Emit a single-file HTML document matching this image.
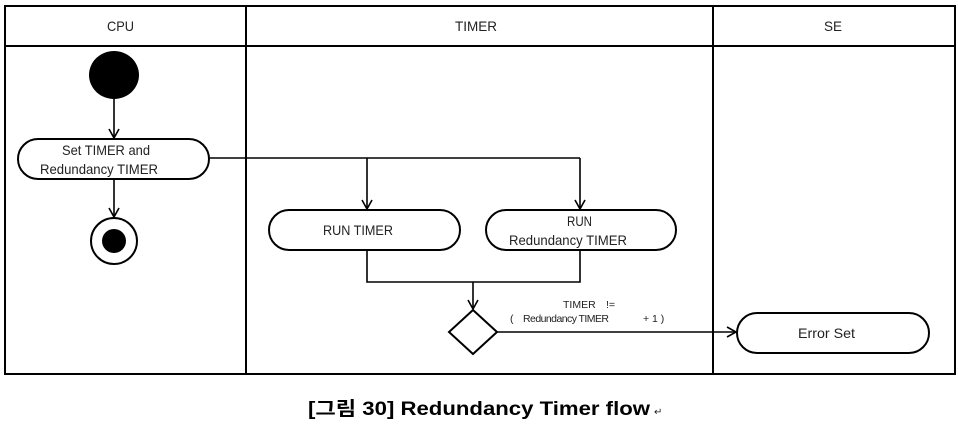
<!DOCTYPE html>
<html><head><meta charset="utf-8"><style>
html,body{margin:0;padding:0;background:#fff;width:958px;height:426px;overflow:hidden}
svg{display:block}
text{font-family:"Liberation Sans",sans-serif;fill:#222}
</style></head><body>
<svg width="958" height="426" viewBox="0 0 958 426">
<defs><marker id="a" markerWidth="12" markerHeight="12" refX="10" refY="6" orient="auto" markerUnits="userSpaceOnUse"><path d="M1,1 L10,6 L1,11" fill="none" stroke="#000" stroke-width="1.6"/></marker></defs>
<g fill="none" stroke="#000" stroke-width="2">
<rect x="5" y="6" width="950" height="368"/>
<line x1="5" y1="46" x2="955" y2="46"/>
<line x1="246" y1="6" x2="246" y2="374"/>
<line x1="713" y1="6" x2="713" y2="374"/>
<rect x="18" y="139" width="191" height="40" rx="20"/>
<rect x="269" y="210" width="191" height="40" rx="20"/>
<rect x="486" y="210" width="190" height="40" rx="20"/>
<rect x="737" y="313" width="192" height="40" rx="20"/>
<circle cx="114" cy="241" r="23"/>
<polygon points="473,310 497,332 473,354 449,332"/>
</g>
<ellipse cx="114" cy="75" rx="25" ry="24" fill="#000"/>
<circle cx="114" cy="241" r="12" fill="#000"/>
<g fill="none" stroke="#000" stroke-width="1.6">
<line x1="114" y1="99" x2="114" y2="138" marker-end="url(#a)"/>
<line x1="114" y1="179" x2="114" y2="217" marker-end="url(#a)"/>
<polyline points="209,158 580,158"/>
<line x1="367" y1="158" x2="367" y2="209" marker-end="url(#a)"/>
<line x1="580" y1="158" x2="580" y2="209" marker-end="url(#a)"/>
<polyline points="367,250 367,282 580,282 580,250"/>
<line x1="473" y1="282" x2="473" y2="309" marker-end="url(#a)"/>
<line x1="497" y1="332" x2="736" y2="332" marker-end="url(#a)"/>
</g>
<g font-size="14" lengthAdjust="spacingAndGlyphs">
<text x="107" y="31" textLength="27" lengthAdjust="spacingAndGlyphs">CPU</text>
<text x="455" y="31" textLength="42" lengthAdjust="spacingAndGlyphs">TIMER</text>
<text x="824" y="31" textLength="18" lengthAdjust="spacingAndGlyphs">SE</text>
<text x="62" y="155" textLength="88" lengthAdjust="spacingAndGlyphs">Set TIMER and</text>
<text x="40" y="174" textLength="118" lengthAdjust="spacingAndGlyphs">Redundancy TIMER</text>
<text x="323" y="235" textLength="70" lengthAdjust="spacingAndGlyphs">RUN TIMER</text>
<text x="567" y="226" textLength="25" lengthAdjust="spacingAndGlyphs">RUN</text>
<text x="509" y="245" textLength="118" lengthAdjust="spacingAndGlyphs">Redundancy TIMER</text>
<text x="798" y="338" textLength="57" lengthAdjust="spacingAndGlyphs">Error Set</text>
</g>
<g font-size="10.5">
<text x="563" y="308">TIMER</text><text x="606" y="308">!=</text>
<text x="510" y="322">(</text><text x="523" y="322" textLength="86">Redundancy TIMER</text><text x="643" y="322">+ 1 )</text>
</g>
<text x="308" y="415" textLength="342" lengthAdjust="spacingAndGlyphs" font-size="19" font-weight="bold" style="font-family:'Liberation Sans','Noto Sans CJK KR',sans-serif;fill:#000">[그림  30] Redundancy Timer flow</text>
<text x="654" y="415" font-size="10" fill="#666">↵</text>
</svg>
</body></html>
